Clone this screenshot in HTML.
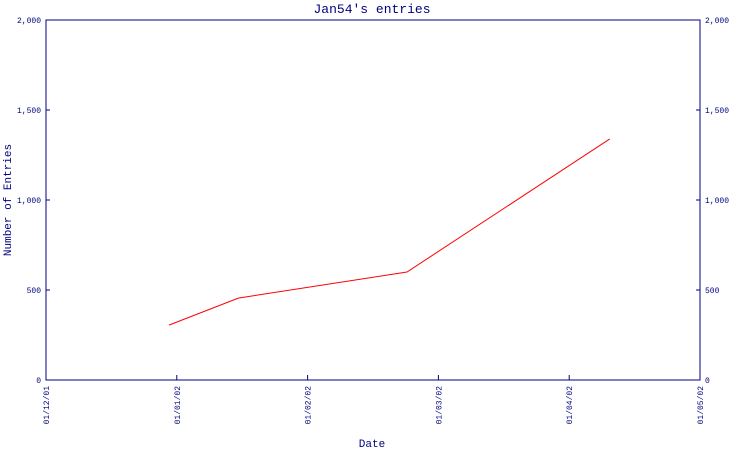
<!DOCTYPE html>
<html><head><meta charset="utf-8"><style>
body{margin:0;background:#fff;width:750px;height:450px;overflow:hidden}
text{font-family:"Liberation Mono",monospace;fill:#000080}
</style></head><body>
<svg id="chart" width="750" height="450" xmlns="http://www.w3.org/2000/svg">
<text x="372" y="13" text-anchor="middle" font-size="13">Jan54's entries</text>
<rect x="46" y="20" width="654" height="360" fill="none" stroke="#000080" stroke-width="1"/>
<text transform="translate(11,200) rotate(-90)" text-anchor="middle" font-size="11">Number of Entries</text>
<text x="372" y="447" text-anchor="middle" font-size="11">Date</text>
<g id="axes"></g>
<g id="series"></g>
</svg>
<script>
const xTickLabels=["01/12/01","01/01/02","01/02/02","01/03/02","01/04/02","01/05/02"];
const yTicks=[0,500,1000,1500,2000];
const yTickLabels=["0","500","1,000","1,500","2,000"];
const pointMonths=[0.94,1.47,2.76,4.31];
const entryValues=[305,455,600,1339];
const NS="http://www.w3.org/2000/svg";
const L=46,R=700,T=20,B=380;
const xS=m=>L+m*(R-L)/(xTickLabels.length-1);
const yS=v=>B-v*(B-T)/2000;
const ax=document.getElementById('axes');
function mk(tag,attrs,parent){const e=document.createElementNS(NS,tag);for(const k in attrs)e.setAttribute(k,attrs[k]);parent.appendChild(e);return e;}
yTicks.forEach((v,i)=>{
  const y=yS(v);
  const t1=mk('line',{x1:L,x2:L+4,y1:y,y2:y,stroke:'#000080'},ax);
  
  
  const t2=mk('line',{x1:R-4,x2:R,y1:y,y2:y,stroke:'#000080'},ax);
  
  
  const a=mk('text',{x:L-5,y:y+3,'text-anchor':'end','font-size':'8'},ax);a.textContent=yTickLabels[i];
  
  
  const b=mk('text',{x:R+5,y:y+3,'font-size':'8'},ax);b.textContent=yTickLabels[i];
  
  
});
xTickLabels.forEach((lab,i)=>{
  const x=xS(i);
  const t=mk('line',{x1:x,x2:x,y1:B,y2:B-5,stroke:'#000080'},ax);
  
  
  const tx=mk('text',{transform:`translate(${x+3},${B+6}) rotate(-90)`,'text-anchor':'end','font-size':'8'},ax);
  tx.textContent=lab;
  
  
});
const pts=pointMonths.map((m,i)=>xS(m)+','+yS(entryValues[i])).join(' ');
const pl=mk('polyline',{points:pts,fill:'none',stroke:'#ff0000','stroke-width':'1'},document.getElementById('series'));


</script>
</body></html>
